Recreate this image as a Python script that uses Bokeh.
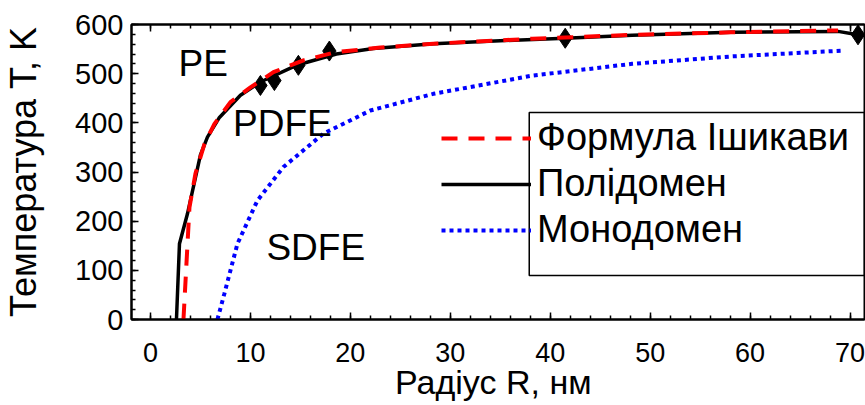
from bokeh.plotting import figure
from bokeh.models import (Range1d, LinearAxis, Legend, LegendItem, BoxAnnotation, Label,
                          SingleIntervalTicker, CustomJSTickFormatter)
from bokeh.embed import file_html
from bokeh.resources import INLINE

# ---------------- data ----------------
poly_R = [2.6, 2.9, 3.7, 5.0, 5.7, 6.9, 9.0, 11.0, 14.6, 18.6, 22.3, 28.3, 35.0, 41.5, 48.2, 58.1, 68.8, 70.8]
poly_T = [0, 154, 215, 335, 371, 411, 456, 483, 517, 540, 551, 561, 567, 572, 578, 584, 586, 579]

ishi_R = [3.3, 3.9, 4.5, 5.4, 6.4, 8.0, 10.0, 12.3, 15.3, 18.6, 23.0, 28.3, 38.2, 48.2, 58.1, 68.8]
ishi_T = [0, 228, 297, 357, 398, 442, 472, 503, 527, 544, 553, 561, 571, 579, 584, 588]

mono_R = [6.7, 7.4, 8.7, 10.7, 13.3, 17.3, 22.0, 28.3, 38.2, 48.2, 58.1, 69.4]
mono_T = [0, 53, 154, 242, 310, 378, 425, 459, 496, 520, 535, 547]

exp_R = [11.0, 12.4, 14.8, 17.9, 41.5, 70.8]
exp_T = [476, 486, 517, 546, 572, 579]

legend_labels = ["Формула Ішикави", "Полідомен", "Монодомен"]
region_labels = ["PE", "PDFE", "SDFE"]
x_title = "Радіус  R, нм"
y_title = "Температура T, K"

FONT = "Liberation Sans"

p = figure(width=865, height=405, output_backend="svg", toolbar_location=None,
           x_range=Range1d(-1.9, 71.45), y_range=Range1d(0, 600),
           min_border_left=127, min_border_right=1, min_border_top=24, min_border_bottom=86)
p.xgrid.visible = False
p.ygrid.visible = False
p.outline_line_color = "black"
p.outline_line_width = 2
p.background_fill_color = "white"
p.border_fill_color = "white"

xt = SingleIntervalTicker(interval=10, num_minor_ticks=5)
yt = SingleIntervalTicker(interval=100, num_minor_ticks=5)
p.xaxis.ticker = xt
p.yaxis.ticker = yt


def style_axis(ax):
    ax.axis_line_width = 2
    ax.axis_line_color = "black"
    ax.major_tick_in = 7
    ax.major_tick_out = 0
    ax.minor_tick_in = 4
    ax.minor_tick_out = 0
    ax.major_tick_line_width = 1.5
    ax.minor_tick_line_width = 1.5
    ax.major_tick_line_color = "black"
    ax.minor_tick_line_color = "black"
    ax.major_label_text_font = FONT
    ax.major_label_text_font_size = "27px"
    ax.major_label_text_color = "black"
    ax.axis_label_text_font = FONT
    ax.axis_label_text_font_size = "34px"
    ax.axis_label_text_font_style = "normal"
    ax.axis_label_text_color = "black"


for ax in p.xaxis:
    style_axis(ax)
    ax.major_label_standoff = 23
    ax.axis_label = x_title
    ax.axis_label_standoff = -2
for ax in p.yaxis:
    style_axis(ax)
    ax.major_label_text_font_size = "29px"
    ax.major_label_standoff = 8
    ax.axis_label = y_title
    ax.axis_label_text_font_size = "36px"
    ax.axis_label_standoff = 28

top = LinearAxis(ticker=xt, formatter=CustomJSTickFormatter(code="return ''"))
style_axis(top)
top.major_label_text_font_size = "0px"
top.major_label_standoff = 0
p.add_layout(top, "above")

# ---------------- glyphs ----------------
p.scatter(exp_R, exp_T, marker="diamond", size=20, color="black")
r_poly = p.line(poly_R, poly_T, line_color="black", line_width=3.5)
r_ishi = p.line(ishi_R, ishi_T, line_color="red", line_width=4, line_dash="16 11")
r_mono = p.line(mono_R, mono_T, line_color="blue", line_width=4, line_dash="4 4")

# ---------------- legend ----------------
box = BoxAnnotation(left=37.9, right=71.45, bottom=89.5, top=421,
                    fill_alpha=0, line_color="black", line_alpha=1, line_width=1.5)
p.add_layout(box)

legend = Legend(items=[LegendItem(label=legend_labels[0], renderers=[r_ishi]),
                       LegendItem(label=legend_labels[1], renderers=[r_poly]),
                       LegendItem(label=legend_labels[2], renderers=[r_mono])],
                location=(310, 68), margin=0, padding=0, spacing=3,
                glyph_width=90, glyph_height=42, label_height=42, label_standoff=6,
                label_text_font=FONT, label_text_font_size="38px", label_text_color="black",
                border_line_color=None, background_fill_alpha=0)
p.add_layout(legend)

# ---------------- region labels ----------------
for txt, x, y in [(region_labels[0], 2.8, 521), (region_labels[1], 8.26, 398), (region_labels[2], 11.6, 146)]:
    p.add_layout(Label(x=x, y=y, text=txt, text_font=FONT, text_font_size="37px",
                       text_color="black", text_baseline="alphabetic", text_align="left"))

open("out.html", "w").write(file_html(p, INLINE))
